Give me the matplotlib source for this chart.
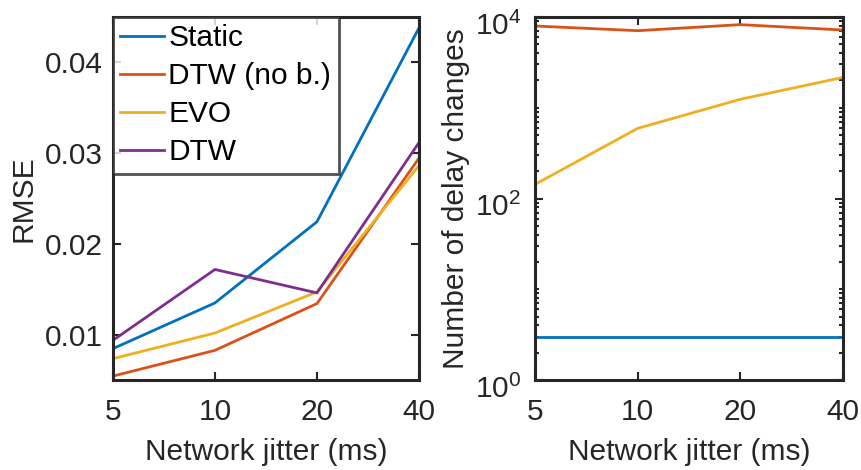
import matplotlib
matplotlib.use("Agg")
import matplotlib.pyplot as plt
from matplotlib.ticker import LogLocator, NullFormatter, FixedLocator, FixedFormatter, NullLocator
from matplotlib.transforms import ScaledTranslation

plt.rcParams['font.family'] = ['Liberation Sans', 'DejaVu Sans']
plt.rcParams['mathtext.fontset'] = 'custom'
plt.rcParams['mathtext.rm'] = 'Liberation Sans'

jitter = [5, 10, 20, 40]
jitter_labels = ['5', '10', '20', '40']

rmse_static = [0.00854, 0.01355, 0.02245, 0.0437]
rmse_dtw_nob = [0.00553, 0.00835, 0.01348, 0.02942]
rmse_evo = [0.00744, 0.01025, 0.01476, 0.0286]
rmse_dtw = [0.00945, 0.01722, 0.01465, 0.03113]

changes_static = [3, 3, 3, 3]
changes_dtw_nob = [7960, 7070, 8240, 7190]
changes_evo = [143, 593, 1240, 2160]

names = ['Static', 'DTW (no b.)', 'EVO', 'DTW']
colors = ['#0072BD', '#D95319', '#EDB120', '#7E2F8E']

TXT = '#262626'
FS = 21.5
LW = 2.0

fig = plt.figure(figsize=(8.61, 4.70), dpi=100)
ax1 = fig.add_axes([0.1312, 0.1915, 0.3554, 0.7723])
ax2 = fig.add_axes([0.6214, 0.1915, 0.3577, 0.7723])

for vals, c, n in zip([rmse_static, rmse_dtw_nob, rmse_evo, rmse_dtw], colors, names):
    ax1.plot(jitter, vals, color=c, lw=LW, label=n)

for vals, c in zip([changes_static, changes_dtw_nob, changes_evo], colors[:3]):
    ax2.plot(jitter, vals, color=c, lw=LW)

for ax in (ax1, ax2):
    ax.set_xscale('log')
    ax.set_xlim(5, 40)
    ax.xaxis.set_major_locator(FixedLocator(jitter))
    ax.xaxis.set_major_formatter(FixedFormatter(jitter_labels))
    ax.xaxis.set_minor_locator(NullLocator())
    ax.set_xlabel('Network jitter (ms)', fontsize=FS, color=TXT)
    ax.xaxis.set_label_coords(0.5, -0.16)
    for s in ax.spines.values():
        s.set_linewidth(2.2)
        s.set_color(TXT)
    ax.tick_params(which='both', direction='in', top=True, right=True,
                   labelsize=FS, colors=TXT, width=1.5)
    ax.tick_params(which='major', length=6)
    ax.tick_params(which='minor', length=3)
    ax.tick_params(axis='x', which='major', pad=13)

ax1.set_ylim(0.0051, 0.0449)
ax1.set_yticks([0.01, 0.02, 0.03, 0.04])
ax1.set_yticklabels(['0.01', '0.02', '0.03', '0.04'])
ax1.tick_params(axis='y', which='major', pad=7)
ax1.set_ylabel('RMSE', fontsize=FS, color=TXT)
ax1.yaxis.set_label_coords(-0.245, 0.5)

ax2.set_yscale('log')
ax2.set_ylim(1, 1e4)
ax2.yaxis.set_major_locator(FixedLocator([1, 100, 10000]))
ax2.set_yticklabels([r'$10^0$', r'$10^2$', r'$10^4$'])
ax2.yaxis.set_minor_locator(LogLocator(base=10, subs=[1, 2, 3, 4, 5, 6, 7, 8, 9], numticks=20))
ax2.yaxis.set_minor_formatter(NullFormatter())
ax2.tick_params(axis='y', which='major', pad=10)
shift = ScaledTranslation(0, -6 / 100, fig.dpi_scale_trans)
for lab in ax2.get_yticklabels():
    lab.set_transform(lab.get_transform() + shift)
ax2.set_ylabel('Number of delay changes', fontsize=FS, color=TXT)
ax2.yaxis.set_label_coords(-0.21, 0.5)

leg = ax1.legend(loc='upper left', bbox_to_anchor=(0, 1), borderaxespad=0,
                 fontsize=FS, frameon=True, fancybox=False, handlelength=1.45,
                 handletextpad=0.15, labelspacing=0.33, borderpad=0.25)
leg.get_frame().set_edgecolor(TXT)
leg.get_frame().set_linewidth(2.0)
for t in leg.get_texts():
    t.set_color('black')

fig.savefig('out.png', dpi=100)
